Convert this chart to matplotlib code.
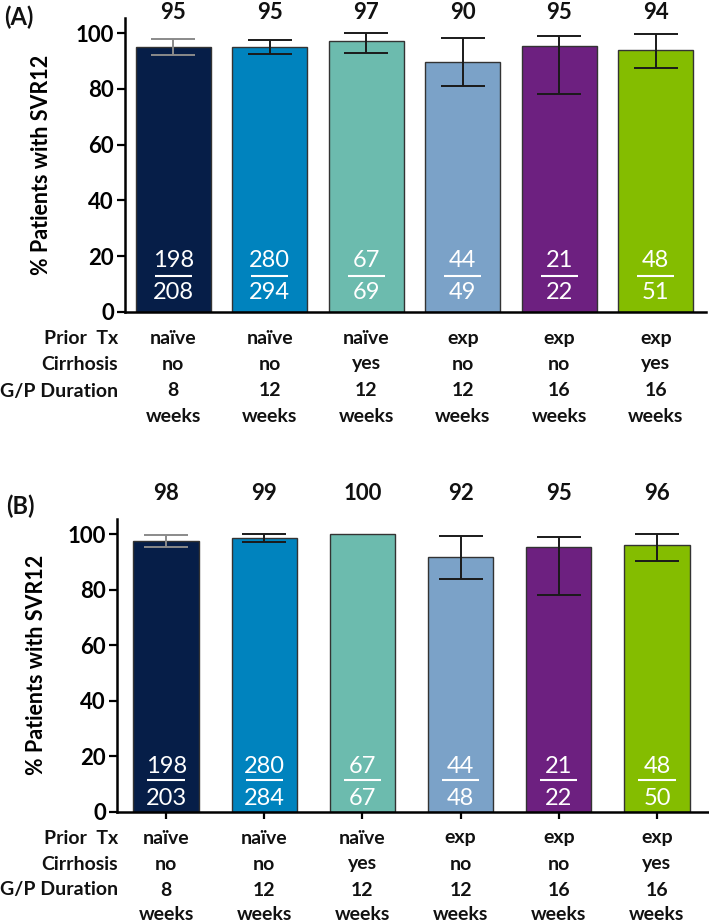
import matplotlib
matplotlib.use("Agg")
import matplotlib.pyplot as plt
from matplotlib.transforms import blended_transform_factory

plt.rcParams["font.family"] = ["Lato", "DejaVu Sans"]

# ── Data ──────────────────────────────────────────────────────────────────────
prior_tx  = ["naïve", "naïve", "naïve", "exp", "exp", "exp"]
cirrhosis = ["no", "no", "yes", "no", "no", "yes"]
dur_weeks = ["8", "12", "12", "12", "16", "16"]

# Panel A
pct_a   = [95.2, 95.2, 97.1, 89.8, 95.5, 94.1]
lbl_a   = ["95", "95", "97", "90", "95", "94"]
num_a   = [198, 280, 67, 44, 21, 48]
den_a   = [208, 294, 69, 49, 22, 51]
ci_lo_a = [92.2, 92.7, 93.0, 81.2, 78.1, 87.6]
ci_hi_a = [98.0, 97.6, 100.0, 98.2, 99.1, 99.9]

# Panel B
pct_b   = [97.5, 98.6, 100.0, 91.7, 95.5, 96.0]
lbl_b   = ["98", "99", "100", "92", "95", "96"]
num_b   = [198, 280, 67, 44, 21, 48]
den_b   = [203, 284, 67, 48, 22, 50]
ci_lo_b = [95.3, 97.1, None, 83.7, 78.0, 90.5]
ci_hi_b = [99.7, 100.0, None, 99.5, 99.0, 100.0]

COLORS = ["#061E48", "#0083BE", "#6CBBAE", "#7BA2C8", "#6D2080", "#84BD00"]
ERR_COLORS = ["#8A8A8A", "#1A1A1A", "#1A1A1A", "#1A1A1A", "#1A1A1A", "#1A1A1A"]

W, H = 709, 924
fig = plt.figure(figsize=(W / 100, H / 100), dpi=100)


def fx(px):
    return px / W


def fy(py):
    return 1 - py / H


def panel(rect, pct, lbl, num, den, lo, hi, bar_w, lbl_y, frac_y, rows_y,
          ylab_x, tag, tag_xy, xticks):
    ax = fig.add_axes(rect)
    x = list(range(len(pct)))
    ax.bar(x, pct, width=bar_w, color=COLORS, edgecolor="#333333",
           linewidth=1.0, zorder=2)
    ny, ly, dy = frac_y
    for i in x:
        if lo[i] is not None:
            ax.errorbar(i, pct[i], yerr=[[pct[i] - lo[i]], [hi[i] - pct[i]]],
                        fmt="none", ecolor=ERR_COLORS[i], elinewidth=1.4,
                        capsize=16, capthick=1.4, zorder=3)
        ax.text(i, lbl_y, lbl[i], ha="center", va="baseline", fontsize=16,
                fontweight="bold", color="#111111", clip_on=False)
        ax.text(i, ny, str(num[i]), ha="center", va="baseline", fontsize=17,
                color="white", zorder=4)
        ax.text(i, dy, str(den[i]), ha="center", va="baseline", fontsize=17,
                color="white", zorder=4)
        ax.plot([i - 0.19, i + 0.19], [ly, ly], color="white", lw=1.5,
                zorder=4, solid_capstyle="butt")

    ax.set_xlim(-0.5, 5.52)
    ax.set_ylim(0, 105.5)
    ax.set_yticks([0, 20, 40, 60, 80, 100])
    ax.tick_params(axis="y", labelsize=16, width=1.6, length=6, pad=2)
    for t in ax.get_yticklabels():
        t.set_fontweight("bold")
    if xticks:
        ax.set_xticks(x)
        ax.set_xticklabels([])
        ax.tick_params(axis="x", width=1.6, length=5)
    else:
        ax.set_xticks([])
    for s in ["top", "right"]:
        ax.spines[s].set_visible(False)
    for s in ["left", "bottom"]:
        ax.spines[s].set_linewidth(1.8)
    ax.set_ylabel("% Patients with SVR12", fontsize=15.5, fontweight="bold")
    ax.yaxis.set_label_coords(ylab_x, 0.5)

    # table under the axis
    tr = blended_transform_factory(ax.transData, fig.transFigure)
    row_lbls = ["Prior  Tx", "Cirrhosis", "G/P Duration", ""]
    row_vals = [prior_tx, cirrhosis, dur_weeks, ["weeks"] * 6]
    for r in range(4):
        fig.text(fx(118), fy(rows_y[r]), row_lbls[r], ha="right", va="center",
                 fontsize=14, fontweight="bold", color="#111111")
        for i in x:
            ax.text(i, fy(rows_y[r]), row_vals[r][i], transform=tr,
                    ha="center", va="center", fontsize=14, fontweight="bold",
                    color="#111111")
    fig.text(fx(tag_xy[0]), fy(tag_xy[1]), tag, ha="left", va="center",
             fontsize=17, fontweight="bold", color="#111111")
    return ax


panel([fx(125), fy(311.7), fx(706) - fx(125), fy(18) - fy(311.7)],
      pct_a, lbl_a, num_a, den_a, ci_lo_a, ci_hi_a, bar_w=0.776,
      lbl_y=105.2, frac_y=(15.9, 12.8, 4.45), rows_y=[339, 364, 391, 416],
      ylab_x=-0.126, tag="(A)", tag_xy=(4, 17), xticks=False)

panel([fx(117), fy(811.7), fx(708) - fx(117), fy(519) - fy(811.7)],
      pct_b, lbl_b, num_b, den_b, ci_lo_b, ci_hi_b, bar_w=0.666,
      lbl_y=112.2, frac_y=(14.0, 11.4, 2.4), rows_y=[838, 864, 890, 915],
      ylab_x=-0.118, tag="(B)", tag_xy=(6, 506), xticks=True)

fig.savefig("out.png", dpi=100, facecolor="white")
